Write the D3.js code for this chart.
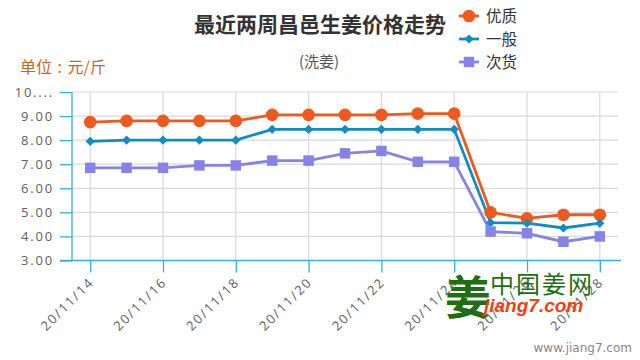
<!DOCTYPE html>
<html><head><meta charset="utf-8">
<script src="https://cdn.jsdelivr.net/npm/d3@7"></script>
<style>
html,body{margin:0;padding:0;background:#fff;}
svg{display:block;font-family:"Noto Sans CJK SC","Noto Sans",sans-serif;}
</style></head>
<body><svg id="chart" width="640" height="360"></svg>
<script>
const dates = ["20/11/14","20/11/15","20/11/16","20/11/17","20/11/18","20/11/19","20/11/20","20/11/21","20/11/22","20/11/23","20/11/24","20/11/25","20/11/26","20/11/27","20/11/28"];
const premium = [8.75,8.8,8.8,8.8,8.8,9.05,9.05,9.05,9.05,9.1,9.1,5.0,4.75,4.9,4.9];
const regular = [7.95,8.0,8.0,8.0,8.0,8.45,8.45,8.45,8.45,8.45,8.45,4.57,4.55,4.35,4.55];
const inferior = [6.85,6.85,6.85,6.95,6.95,7.15,7.15,7.45,7.55,7.1,7.1,4.2,4.13,3.78,4.0];
const seriesNames = ["优质","一般","次货"];
const yTicks = [3,4,5,6,7,8,9,10];
const xTickLabels = ["20/11/14","20/11/16","20/11/18","20/11/20","20/11/22","20/11/24","20/11/26","20/11/28"];

const colors = ["#ee5a1e","#0f8cc4","#8584e6"];
const diamond = { draw(ctx, size) { const r = Math.sqrt(size / 2); ctx.moveTo(0, -r); ctx.lineTo(r, 0); ctx.lineTo(0, r); ctx.lineTo(-r, 0); ctx.closePath(); } };
const symbols = [d3.symbolCircle, diamond, d3.symbolSquare];
const symSizes = [125, 42, 110];

const svg = d3.select("#chart");
const L = 72, R = 618, T = 92, B = 260.5;
const x = d3.scalePoint().domain(dates).range([L, R]).padding(0.5);
const y = d3.scaleLinear().domain([3, 10]).range([B, T]);
const axisBlue = "#2bb3e6";
const tickFont = "'Open Sans','Noto Sans',sans-serif";

// grid
svg.append("g").selectAll("line").data(yTicks.slice(1)).join("line")
  .attr("x1", L).attr("x2", R).attr("y1", d => y(d)).attr("y2", d => y(d))
  .attr("stroke", "#d9d9d9").attr("stroke-width", 1.2);
svg.append("g").selectAll("line").data(xTickLabels).join("line")
  .attr("x1", d => x(d)).attr("x2", d => x(d)).attr("y1", T).attr("y2", B)
  .attr("stroke", "#d9d9d9").attr("stroke-width", 1.2);

// y axis
const yAxis = d3.axisLeft(y).tickValues(yTicks).tickSize(12).tickPadding(6)
  .tickFormat(d => d === 10 ? "10...." : d3.format(".2f")(d));
const gy = svg.append("g").attr("transform", `translate(${L},0)`).call(yAxis);
gy.select(".domain").attr("stroke", axisBlue).attr("stroke-width", 1.3).attr("d", `M0,${T}V${B}`);
gy.selectAll(".tick line").attr("stroke", axisBlue).attr("stroke-width", 1.3);
gy.selectAll(".tick text").attr("fill", "#606060").style("font-size", "13px")
  .style("letter-spacing", "1.8px").style("font-family", tickFont);

// x axis
const xAxis = d3.axisBottom(x).tickValues(xTickLabels).tickSize(12).tickPadding(4);
const gx = svg.append("g").attr("transform", `translate(0,${B})`).call(xAxis);
gx.select(".domain").attr("stroke", axisBlue).attr("stroke-width", 1.3).attr("d", `M${L-12},0H${R+3}`);
gx.selectAll(".tick line").attr("stroke", axisBlue).attr("stroke-width", 1.3);
gx.selectAll(".tick text").attr("fill", "#606060").style("font-size", "13px")
  .style("letter-spacing", "1.8px").style("font-family", tickFont)
  .attr("text-anchor", "end").attr("x", 0).attr("y", 0).attr("dy", 0)
  .attr("transform", "translate(4,22.5) rotate(-45)");

// series
const allSeries = [premium, regular, inferior];
const line = d3.line().x((d, i) => x(dates[i])).y(d => y(d));
allSeries.forEach((s, k) => {
  svg.append("path").datum(s).attr("d", line).attr("fill", "none")
    .attr("stroke", colors[k]).attr("stroke-width", 2.8);
});
allSeries.forEach((s, k) => {
  svg.append("g").selectAll("path").data(s).join("path")
    .attr("transform", (d, i) => `translate(${x(dates[i])},${y(d)})`)
    .attr("d", d3.symbol().type(symbols[k]).size(symSizes[k]))
    .attr("fill", colors[k]);
});

// title
svg.append("text").attr("x", 320).attr("y", 32).attr("text-anchor", "middle")
  .attr("fill", "#333").style("font-size", "21px").style("font-weight", "bold")
  .text("最近两周昌邑生姜价格走势");
svg.append("text").attr("x", 319).attr("y", 67).attr("text-anchor", "middle")
  .attr("fill", "#555").style("font-size", "15px").text("(洗姜)");
svg.append("text").attr("x", 20).attr("y", 73)
  .attr("fill", "#c8651f").style("font-size", "16px").style("word-spacing", "2px").text("单位 : 元/斤");

// legend
seriesNames.forEach((n, k) => {
  const ly = 16 + k * 23;
  const g = svg.append("g");
  g.append("line").attr("x1", 459).attr("x2", 479).attr("y1", ly).attr("y2", ly)
    .attr("stroke", colors[k]).attr("stroke-width", 2.8);
  g.append("path").attr("transform", `translate(469,${ly})`)
    .attr("d", d3.symbol().type(symbols[k]).size(symSizes[k])).attr("fill", colors[k]);
  g.append("text").attr("x", 486).attr("y", ly).attr("dy", "0.36em")
    .attr("fill", "#333").style("font-size", "15.5px").text(n);
});

// watermark
svg.append("text").attr("x", 445).attr("y", 314).attr("fill", "#1f6e14")
  .style("font-size", "46px").style("font-weight", "bold").text("姜");
svg.append("text").attr("x", 490).attr("y", 293).attr("fill", "#1f6e14")
  .style("font-size", "24px").style("letter-spacing", "2px").text("中国姜网");
svg.append("text").attr("x", 484).attr("y", 312).attr("fill", "#f5400f")
  .style("font-size", "19px").style("font-weight", "bold").style("font-style", "italic")
  .style("font-family", "'Liberation Sans',Arial,sans-serif").text("jiang7.com");
svg.append("text").attr("x", 632).attr("y", 352).attr("text-anchor", "end").attr("fill", "#888")
  .style("font-size", "12px").style("font-family", "'DejaVu Sans',sans-serif").text("www.jiang7.com");
</script></body></html>
